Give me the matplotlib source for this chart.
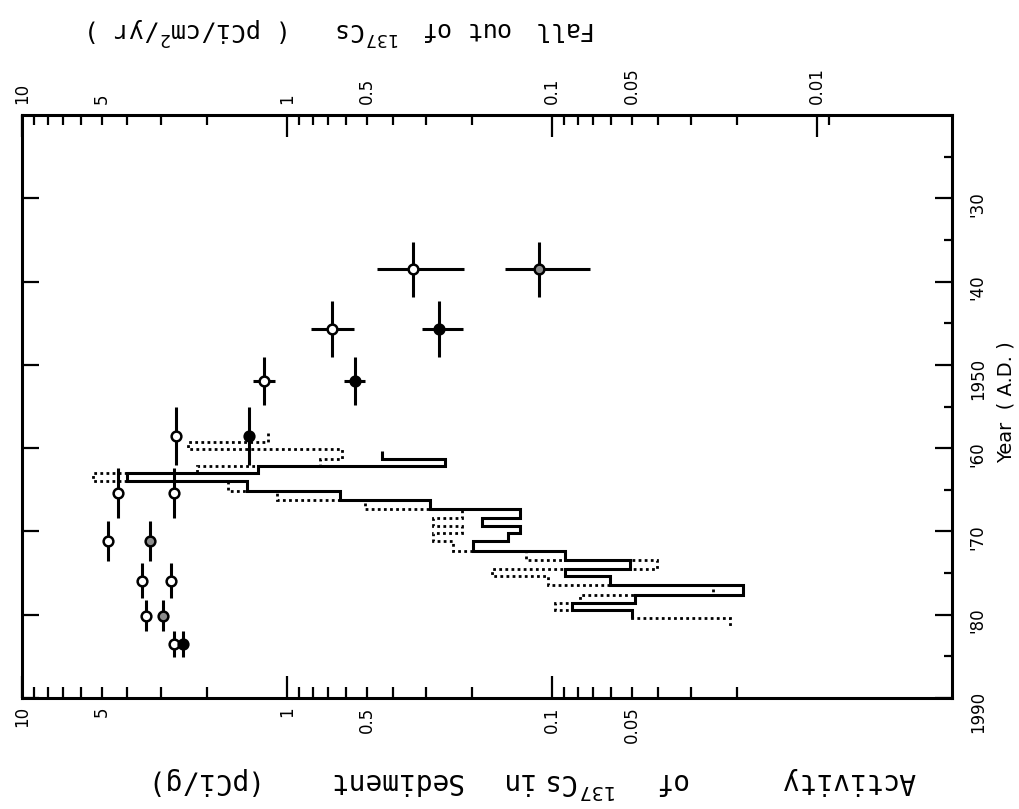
import matplotlib
matplotlib.use('Agg')
import matplotlib.pyplot as plt

# fall out of 137Cs (top axis), crosses
fall_year = [1938.5, 1938.5, 1945.7, 1945.7, 1951.9, 1951.9]
fall_yerr = [3.3, 3.3, 3.4, 3.4, 2.9, 2.9]
fall_val = [0.335, 0.112, 0.676, 0.267, 0.554, 1.22]
fall_lo = [0.215, 0.072, 0.559, 0.217, 0.508, 1.11]
fall_hi = [0.457, 0.150, 0.812, 0.310, 0.609, 1.34]
fall_fill = ['open', 'gray', 'open', 'filled', 'filled', 'open']

# sediment activity points with year error bars
sed_year = [1958.5, 1958.5, 1965.4, 1965.4, 1971.2, 1971.2,
            1975.9, 1975.9, 1980.1, 1980.1, 1983.5, 1983.5]
sed_val = [2.62, 1.39, 4.34, 2.67, 4.73, 3.29, 3.52, 2.74, 3.41, 2.94, 2.67, 2.47]
sed_yerr = [3.5, 3.5, 3.0, 3.0, 2.4, 2.4, 2.1, 2.1, 1.9, 1.9, 1.6, 1.6]
sed_fill = ['open', 'filled', 'open', 'open', 'open', 'gray',
            'open', 'open', 'open', 'gray', 'open', 'filled']

# core profiles (histograms), year bin edges and activity
solid_edges = [1960.4, 1961.3, 1962.2, 1963.0, 1964.0, 1965.1, 1966.2, 1967.3, 1968.4,
               1969.3, 1970.2, 1971.2, 1972.4, 1973.4, 1974.5, 1975.4, 1976.4, 1977.6,
               1978.6, 1979.4, 1980.4]
solid_vals = [0.438, 0.253, 1.29, 4.02, 1.42, 0.631, 0.289, 0.132, 0.184, 0.132,
              0.147, 0.199, 0.0893, 0.0508, 0.0893, 0.0604, 0.0190, 0.0486, 0.0841, 0.0499]

dotted_edges = [1958.2, 1959.2, 1960.1, 1961.3, 1962.2, 1963.0, 1964.0, 1965.1, 1966.2,
                1967.3, 1968.4, 1969.3, 1970.2, 1971.2, 1972.4, 1973.4, 1974.5, 1975.4,
                1976.4, 1977.6, 1978.6, 1979.4, 1980.4, 1981.4]
dotted_vals = [1.18, 2.36, 0.620, 0.750, 2.19, 5.40, 1.67, 1.09, 0.508, 0.219, 0.281,
               0.219, 0.281, 0.236, 0.126, 0.0402, 0.168, 0.104, 0.0247, 0.0784, 0.0975,
               0.0499, 0.0213]

year_ticks = [1930, 1940, 1950, 1960, 1970, 1980, 1990]
year_labels = ["'30", "'40", "1950", "'60", "'70", "'80", "1990"]

# axis titles are upside down in the scan, placed word by word (fig x centre)
top_words = [('Fall', 0.550), ('out', 0.478), ('of', 0.426),
             ('$^{137}$Cs', 0.361), ('( pCi/cm$^2$/yr )', 0.186)]
bot_words = [('Activity', 0.833), ('of', 0.658), ('$^{137}$Cs', 0.571),
             ('in', 0.506), ('Sediment', 0.388), ('(pCi/g)', 0.192)]

face = {'open': 'white', 'filled': 'black', 'gray': '0.55'}

plt.rcParams['mathtext.fontset'] = 'dejavusans'

fig = plt.figure(figsize=(10.19, 8.09), dpi=100)
ax = fig.add_axes([0.0216, 0.1372, 0.9127, 0.7206])
ax.set_xscale('log')
ax.set_xlim(10, 0.0031)
ax.set_ylim(1990, 1920)
for s in ax.spines.values():
    s.set_linewidth(2.2)

ax.stairs(solid_vals, solid_edges, orientation='horizontal', baseline=None,
          color='k', lw=2.2)
ax.stairs(dotted_vals, dotted_edges, orientation='horizontal', baseline=None,
          color='k', lw=2, linestyle=(0, (1, 1.2)))

for yr, v, lo, hi, ye, f in zip(fall_year, fall_val, fall_lo, fall_hi, fall_yerr, fall_fill):
    ax.errorbar(v, yr, xerr=[[v - lo], [hi - v]], yerr=ye, fmt='o', ms=7,
                mfc=face[f], mec='k', mew=1.8, ecolor='k', elinewidth=2.2,
                capsize=0, zorder=3)

for yr, v, ye, f in zip(sed_year, sed_val, sed_yerr, sed_fill):
    ax.errorbar(v, yr, yerr=ye, fmt='o', ms=7, mfc=face[f], mec='k', mew=1.8,
                ecolor='k', elinewidth=2.2, capsize=0, zorder=3)

# bottom axis: sediment activity
ax.set_xticks([10, 1, 0.1], labels=['10', '1', '0.1'])
bmin = [m * 10.0 ** e for e in (0, -1, -2) for m in range(2, 10)]
blab = {5: '5', 0.5: '0.5', 0.05: '0.05'}
ax.set_xticks(bmin, labels=[blab.get(round(b, 4), '') for b in bmin], minor=True)
ax.tick_params(axis='x', which='both', direction='in', bottom=True, top=False,
               labelrotation=90, labelsize=12, pad=6, width=1.6)
ax.tick_params(axis='x', which='major', length=16)
ax.tick_params(axis='x', which='minor', length=8)

# right axis: years
ax.set_yticks(year_ticks, labels=year_labels)
ax.set_yticks(range(1925, 1990, 10), minor=True)
ax.tick_params(axis='y', which='both', direction='in', left=True, right=True,
               labelleft=False, labelright=True, labelrotation=90, labelsize=12,
               pad=12, width=1.6)
ax.tick_params(axis='y', which='major', length=12)
ax.tick_params(axis='y', which='minor', left=False, length=6)

# top axis: fall out
ax2 = ax.twiny()
ax2.set_xscale('log')
ax2.set_xlim(10, 0.0031)
ax2.set_xticks([10, 1, 0.1, 0.01], labels=['10', '1', '0.1', '0.01'])
tmin = bmin + [0.009]
ax2.set_xticks(tmin, labels=[blab.get(round(t, 4), '') for t in tmin], minor=True)
ax2.tick_params(axis='x', which='both', direction='in', labelrotation=90,
                labelsize=12, pad=8, width=1.6)
ax2.tick_params(axis='x', which='major', length=16)
ax2.tick_params(axis='x', which='minor', length=7)

for w, x in top_words:
    fig.text(x, 0.973, w, rotation=180, rotation_mode='anchor', ha='center',
             va='baseline', family='DejaVu Sans Mono', fontsize=18)
for w, x in bot_words:
    fig.text(x, 0.0445, w, rotation=180, rotation_mode='anchor', ha='center',
             va='baseline', family='DejaVu Sans Mono', fontsize=20)
fig.text(0.987, 0.503, 'Year  ( A.D. )', rotation=90, ha='center', va='center', fontsize=14)

fig.savefig('out.png', dpi=100)
